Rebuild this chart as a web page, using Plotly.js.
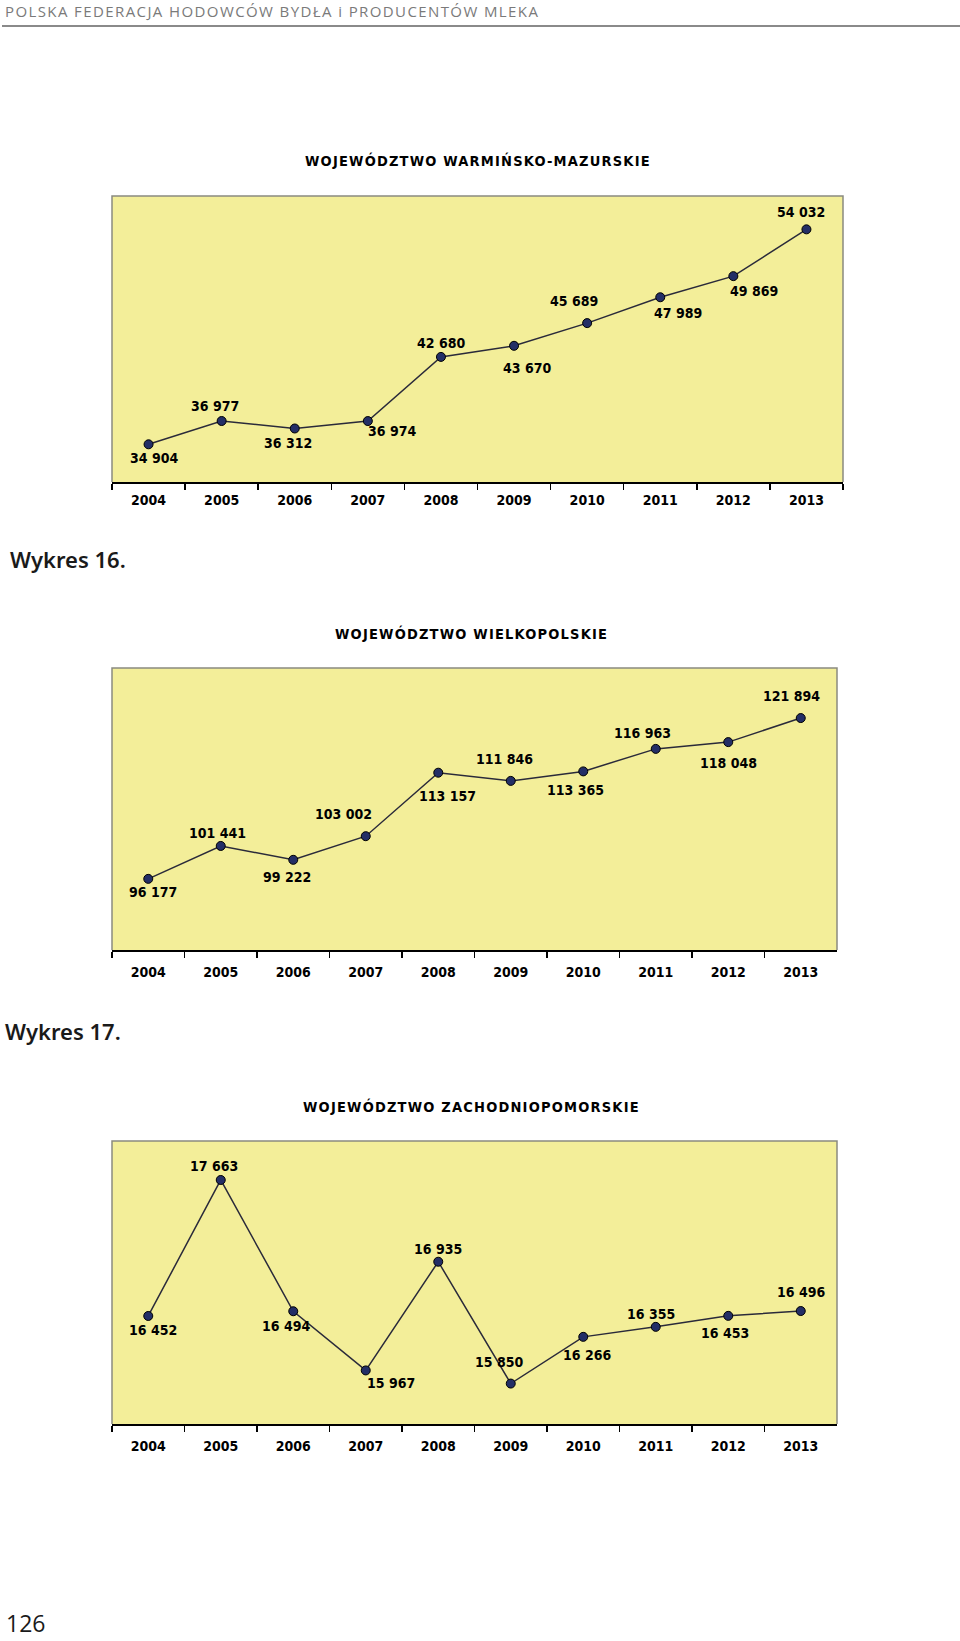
<!DOCTYPE html>
<html><head><meta charset="utf-8">
<script src="https://cdn.plot.ly/plotly-3.0.1.min.js"></script>
<style>html,body{margin:0;padding:0;background:#fff;overflow:hidden}</style>
</head><body><div id="chart" style="width:960px;height:1641px"></div>
<script>
// ---- data ----
const years = ['2004', '2005', '2006', '2007', '2008', '2009', '2010', '2011', '2012', '2013'];
const warminskoMazurskie = [34904, 36977, 36312, 36974, 42680, 43670, 45689, 47989, 49869, 54032];
const wielkopolskie = [96177, 101441, 99222, 103002, 113157, 111846, 113365, 116963, 118048, 121894];
const zachodniopomorskie = [16452, 17663, 16494, 15967, 16935, 15850, 16266, 16355, 16453, 16496];
const titles = ['WOJEWÓDZTWO WARMIŃSKO-MAZURSKIE', 'WOJEWÓDZTWO WIELKOPOLSKIE', 'WOJEWÓDZTWO ZACHODNIOPOMORSKIE'];
const headerText = 'POLSKA FEDERACJA HODOWCÓW BYDŁA i PRODUCENTÓW MLEKA';
const captions = ['Wykres 16.', 'Wykres 17.'];
const pageNumber = '126';

// ---- styling / layout ----
const W = 960, H = 1641;
const COND = 'DejaVu Sans Condensed, DejaVu Sans, sans-serif';
const LABEL_FONT = {family: COND, size: 14, color: '#000', weight: 'bold'};
const BG = '#F3EE99';
// label offsets in px [dx, dy(down)]
const offs1 = [[5,14],[-7,-15],[-7,15],[24,10],[0,-14],[13,22],[-13,-22],[18,16],[21,15],[-5,-17]];
const offs2 = [[5,13],[-3,-13],[-6,17],[-22,-22],[9,23],[-6,-22],[-8,19],[-13,-16],[0,21],[-9,-22]];
const offs3 = [[5,14],[-7,-14],[-7,15],[25,13],[0,-13],[-12,-22],[4,18],[-5,-13],[-3,17],[0,-19]];
// pixel boxes [left, right, top, bottom]
const boxes = [[112, 843, 196, 482], [112, 837, 668, 950], [112, 837, 1141, 1424]];
const yRanges = [[31550, 57000], [84800, 129900], [15490, 18010]];
const titlePos = [[478, 161], [471, 633], [471, 1106]];
const standoffs = [5, 9, 9];

const series = [warminskoMazurskie, wielkopolskie, zachodniopomorskie];
const offs = [offs1, offs2, offs3];
const fmt = v => String(v).replace(/\B(?=(\d{3})+(?!\d))/g, ' ');
const px = x => x / W, py = y => 1 - y / H;

const data = [], annotations = [], shapes = [];
const layout = {
  width: W, height: H, margin: {l: 0, r: 0, t: 0, b: 0},
  paper_bgcolor: '#fff', plot_bgcolor: BG, showlegend: false,
  font: {family: COND, size: 14, color: '#000'}, annotations, shapes
};

series.forEach((vals, i) => {
  const sfx = i === 0 ? '' : String(i + 1);
  const [l, r, t, b] = boxes[i];
  data.push({
    x: years, y: vals, xaxis: 'x' + sfx, yaxis: 'y' + sfx,
    type: 'scatter', mode: 'lines+markers', hoverinfo: 'skip',
    line: {color: '#2a2a3a', width: 1.5},
    marker: {size: 9, color: '#232E66', line: {color: '#000', width: 1}}
  });
  layout['xaxis' + sfx] = {
    domain: [px(l), px(r)], anchor: 'y' + sfx, type: 'category', range: [-0.5, 9.5],
    showline: true, linecolor: '#000', linewidth: 1.5, ticks: 'outside', tickson: 'boundaries',
    ticklen: 6, tickwidth: 1.5, tickcolor: '#000', showgrid: false, zeroline: false,
    tickfont: LABEL_FONT, ticklabelstandoff: standoffs[i], fixedrange: true
  };
  layout['yaxis' + sfx] = {
    domain: [py(b), py(t)], anchor: 'x' + sfx, range: yRanges[i],
    showgrid: false, zeroline: false, showticklabels: false, ticks: '', showline: false, fixedrange: true
  };
  shapes.push({type: 'path', xref: 'x' + sfx + ' domain', yref: 'y' + sfx + ' domain',
    path: 'M0,0 L0,1 L1,1 L1,0', line: {color: '#8a8a80', width: 1.5}, layer: 'above'});
  vals.forEach((v, j) => {
    annotations.push({x: j, y: v, xref: 'x' + sfx, yref: 'y' + sfx, text: fmt(v),
      showarrow: false, xshift: offs[i][j][0], yshift: -offs[i][j][1], font: LABEL_FONT});
  });
  annotations.push({xref: 'paper', yref: 'paper', x: px(titlePos[i][0]), y: py(titlePos[i][1]),
    xanchor: 'center', yanchor: 'middle', showarrow: false,
    text: '<span style="letter-spacing:1.2px">' + titles[i] + '</span>',
    font: {family: COND, size: 14.5, color: '#000', weight: 'bold'}});
});

// header
annotations.push({xref: 'paper', yref: 'paper', x: px(3), y: py(11), xanchor: 'left', yanchor: 'middle',
  showarrow: false, text: '<span style="letter-spacing:1.4px">' + headerText + '</span>',
  font: {family: 'Open Sans, sans-serif', size: 15, color: '#7a7a7a', weight: 'normal'}});
shapes.push({type: 'line', xref: 'paper', yref: 'paper', x0: px(2), x1: 1, y0: py(26), y1: py(26),
  line: {color: '#8a8a8a', width: 2}});
// captions
[[8, 559], [3, 1031]].forEach((p, k) => {
  annotations.push({xref: 'paper', yref: 'paper', x: px(p[0]), y: py(p[1]), xanchor: 'left', yanchor: 'middle',
    showarrow: false, text: captions[k], font: {family: 'Noto Sans, Open Sans, sans-serif', size: 22, color: '#1a1a1a', weight: 600}});
});
annotations.push({xref: 'paper', yref: 'paper', x: px(4), y: py(1623), xanchor: 'left', yanchor: 'middle',
  showarrow: false, text: pageNumber, font: {family: 'Open Sans, sans-serif', size: 23, color: '#1a1a1a', weight: 'normal'}});

Plotly.newPlot('chart', data, layout, {staticPlot: true, displayModeBar: false});
</script></body></html>
